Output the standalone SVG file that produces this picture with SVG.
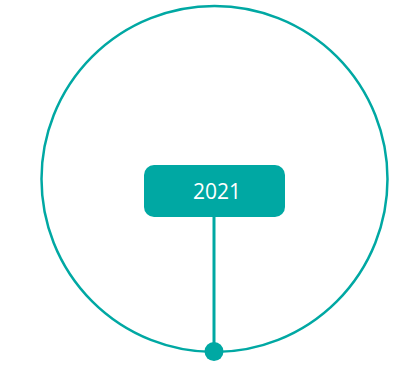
<svg xmlns="http://www.w3.org/2000/svg" width="401" height="375" viewBox="0 0 401 375">
<style>
.ring{fill:none;stroke:#00a8a3;stroke-width:2.5}
.conn{stroke:#00a8a3;stroke-width:3;fill:none}
.box{fill:#00a8a3}
.lbl{font-family:"Open Sans","Noto Sans",sans-serif;font-size:21px;fill:#ffffff;text-anchor:middle}
.dot{fill:#00a8a3}
</style>
<g id="ring"><circle class="ring" cx="214.5" cy="179" r="173"/></g>
<g id="connectors"><line class="conn" x1="214" y1="217" x2="214" y2="351"/></g>
<g id="year"><rect class="box" x="144" y="165" width="141" height="52" rx="10"/><text class="lbl" x="217" y="199">2021</text></g>
<g id="marker"><circle class="dot" cx="214" cy="351.5" r="9.5"/></g>
</svg>
